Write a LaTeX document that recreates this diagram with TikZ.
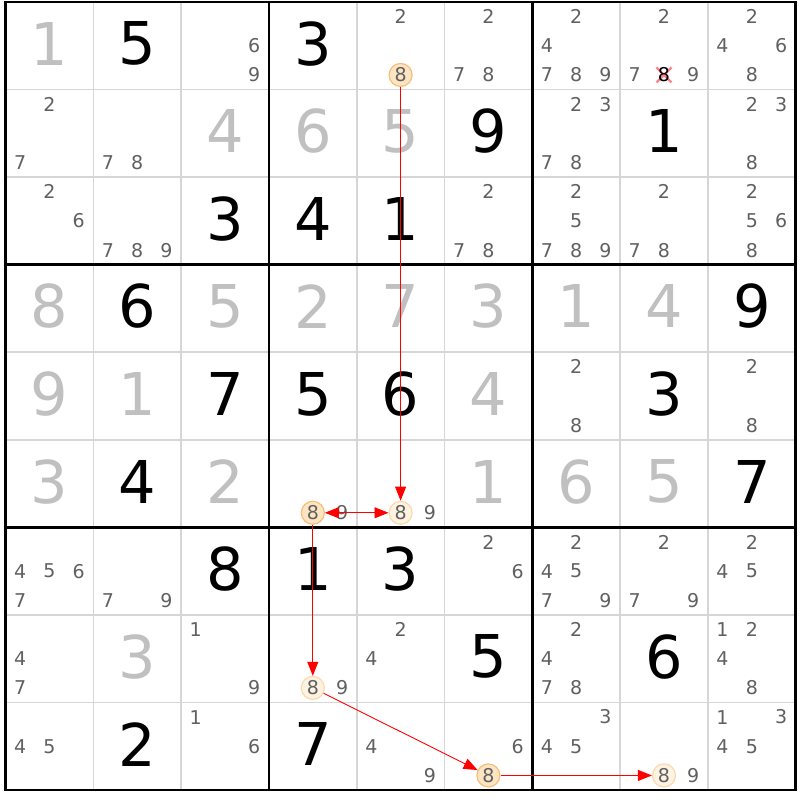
\documentclass[tikz,border=0pt]{standalone}
\usepackage{fontspec}
\setmainfont{DejaVu Sans}
\usetikzlibrary{arrows.meta}

\definecolor{givengray}{RGB}{192,192,192}
\definecolor{candgray}{RGB}{96,96,96}
\definecolor{gridgray}{RGB}{214,214,214}
\definecolor{onfill}{RGB}{253,229,196}
\definecolor{ondraw}{RGB}{246,190,120}
\definecolor{offfill}{RGB}{254,243,226}
\definecolor{offdraw}{RGB}{250,218,172}
\definecolor{elimred}{RGB}{255,130,140}

\begin{document}
\begin{tikzpicture}[x=87.8pt,y=-87.56pt,
    given/.style={text=givengray,font=\fontsize{59}{59}\selectfont,inner sep=0pt,yshift=2pt},
    solved/.style={given,text=black},
    cand/.style={text=candgray,font=\fontsize{19}{19}\selectfont,inner sep=0pt},
    linkon/.style={cand,circle,minimum size=23pt,fill=onfill,draw=ondraw,line width=1.2pt},
    linkoff/.style={linkon,fill=offfill,draw=offdraw},
    thinline/.style={gridgray,line width=1.6pt},
    boxline/.style={black,line width=2.8pt},
    tip/.style={Triangle[length=14pt,width=11pt]},
    chain/.style={red,line width=0.9pt,-{Triangle[length=14pt,width=11pt]}}]
  \fill[white] (-5.5pt,2pt) rectangle (794.5pt,-798pt);
  \useasboundingbox (-5.5pt,2pt) rectangle (794.5pt,-798pt);

  % grid
  \foreach \i in {1,2,4,5,7,8} {
    \draw[thinline] (\i,0) -- (\i,9);
    \draw[thinline] (0,\i) -- (9,\i);
  }
  \foreach \i in {3,6} {
    \draw[boxline] (\i,0) -- (\i,9);
    \draw[boxline] (0,\i) -- (9,\i);
  }
  \draw[boxline] (0,0) rectangle (9,9);

  % givens and solved cells
  \foreach \r/\c/\d in {1/1/1, 2/3/4, 2/4/6, 2/5/5, 4/1/8, 4/3/5, 4/4/2, 4/5/7, 4/6/3, 4/7/1, 4/8/4,
                        5/1/9, 5/2/1, 5/6/4, 6/1/3, 6/3/2, 6/6/1, 6/7/6, 6/8/5, 8/2/3}
    \node[given] (g\r\c) at (\c-0.5,\r-0.5) {\d};
  \foreach \r/\c/\d in {1/2/5, 1/4/3, 2/6/9, 2/8/1, 3/3/3, 3/4/4, 3/5/1, 4/2/6, 4/9/9,
                        5/3/7, 5/4/5, 5/5/6, 5/8/3, 6/2/4, 6/9/7, 7/3/8, 7/4/1, 7/5/3,
                        8/6/5, 8/8/6, 9/2/2, 9/4/7}
    \node[solved] (s\r\c) at (\c-0.5,\r-0.5) {\d};

  % candidates
  \foreach \r/\c/\ds in {1/3/{6,9}, 1/5/{2}, 1/6/{2,7,8}, 1/7/{2,4,7,8,9}, 1/8/{2,7,9}, 1/9/{2,4,6,8},
                         2/1/{2,7}, 2/2/{7,8}, 2/7/{2,3,7,8}, 2/9/{2,3,8},
                         3/1/{2,6}, 3/2/{7,8,9}, 3/6/{2,7,8}, 3/7/{2,5,7,8,9}, 3/8/{2,7,8}, 3/9/{2,5,6,8},
                         5/7/{2,8}, 5/9/{2,8}, 6/4/{9}, 6/5/{9},
                         7/1/{4,5,6,7}, 7/2/{7,9}, 7/6/{2,6}, 7/7/{2,4,5,7,9}, 7/8/{2,7,9}, 7/9/{2,4,5},
                         8/1/{4,7}, 8/3/{1,9}, 8/4/{9}, 8/5/{2,4}, 8/7/{2,4,7,8}, 8/9/{1,2,4,8},
                         9/1/{4,5}, 9/3/{1,6}, 9/5/{4,9}, 9/6/{6}, 9/7/{3,4,5}, 9/8/{9}, 9/9/{1,3,4,5}} {
    \foreach \d in \ds {
      \pgfmathtruncatemacro\k{mod(\d-1,3)}
      \pgfmathtruncatemacro\j{div(\d-1,3)}
      \node[cand] (c\r\c\d) at ({\c-1+(2*\k+1)/6},{\r-1+(2*\j+1)/6}) {\d};
    }
  }

  % eliminated candidate
  \coordinate (x188) at (7.5,0.8333);
  \draw[elimred,line width=2.2pt] (x188) ++(-7.5pt,-7.5pt) -- ++(15pt,15pt);
  \draw[elimred,line width=2.2pt] (x188) ++(-7.5pt,7.5pt) -- ++(15pt,-15pt);
  \node[cand,text=black] (c188) at (x188) {8};

  % chain of 8s
  \node[linkon] (lk15) at (4.5,0.8333) {8};
  \node[linkoff] (lk65) at (4.5,5.8333) {8};
  \node[linkon] (lk64) at (3.5,5.8333) {8};
  \node[linkoff] (lk84) at (3.5,7.8333) {8};
  \node[linkon] (lk96) at (5.5,8.8333) {8};
  \node[linkoff] (lk98) at (7.5,8.8333) {8};

  \draw[chain] (lk15) -- (lk65);
  \draw[chain,{Triangle[length=14pt,width=11pt]}-{Triangle[length=14pt,width=11pt]}] (lk64) -- (lk65);
  \draw[chain] (lk64) -- (lk84);
  \draw[chain] (lk84) -- (lk96);
  \draw[chain] (lk96) -- (lk98);
\end{tikzpicture}
\end{document}
